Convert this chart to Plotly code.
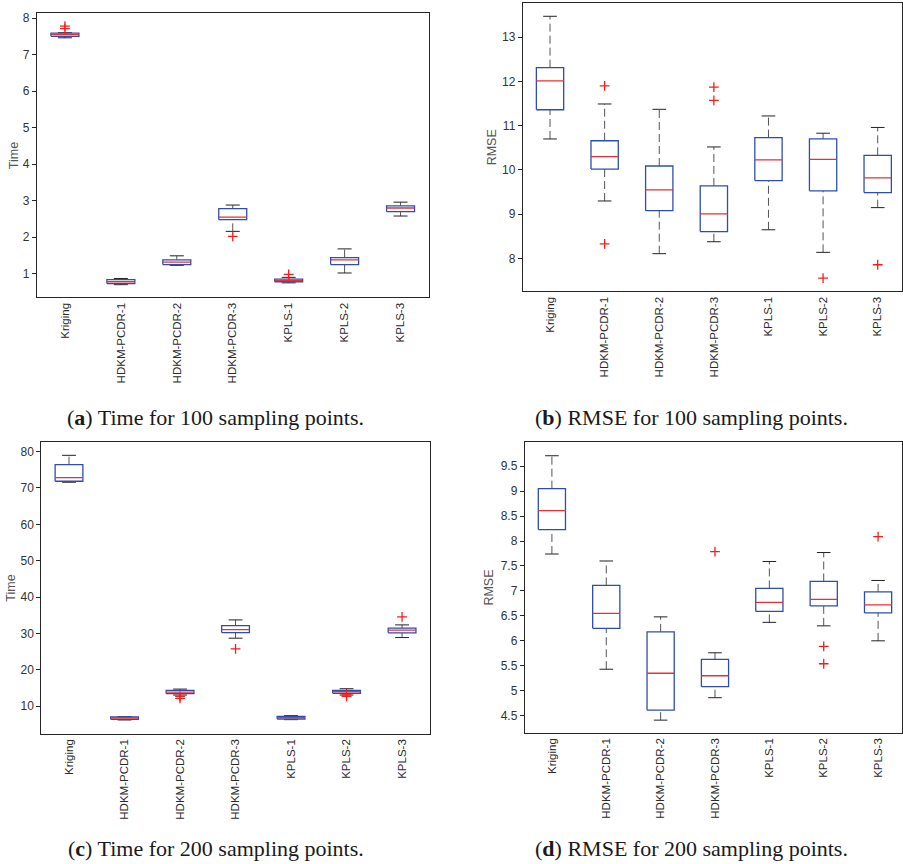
import plotly.graph_objects as go

# ---------------------------------------------------------------- data
methods = ["Kriging", "HDKM-PCDR-1", "HDKM-PCDR-2", "HDKM-PCDR-3",
           "KPLS-1", "KPLS-2", "KPLS-3"]

# (a) computing time, 100 sampling points
time100_lo = [7.46, 0.70, 1.23, 2.16, 0.75, 1.02, 2.58]
time100_q1 = [7.50, 0.73, 1.25, 2.48, 0.78, 1.25, 2.70]
time100_med = [7.545, 0.78, 1.32, 2.55, 0.81, 1.38, 2.80]
time100_q3 = [7.59, 0.84, 1.38, 2.78, 0.85, 1.44, 2.86]
time100_hi = [7.60, 0.87, 1.49, 2.88, 0.90, 1.68, 2.96]
time100_out = [[7.78, 7.71], [], [], [2.02], [0.98], [], []]

# (b) RMSE, 100 sampling points
rmse100_lo = [10.70, 9.30, 8.11, 8.38, 8.65, 8.14, 9.15]
rmse100_q1 = [11.36, 10.02, 9.08, 8.61, 9.76, 9.53, 9.49]
rmse100_med = [12.01, 10.30, 9.55, 9.01, 10.23, 10.24, 9.82]
rmse100_q3 = [12.31, 10.66, 10.09, 9.64, 10.73, 10.70, 10.33]
rmse100_hi = [13.47, 11.49, 11.37, 10.52, 11.22, 10.83, 10.96]
rmse100_out = [[], [11.90, 8.33], [], [11.87, 11.57], [], [7.56], [7.86]]

# (c) computing time, 200 sampling points
time200_lo = [71.58, 6.17, 13.03, 28.67, 6.26, 13.03, 28.85]
time200_q1 = [71.86, 6.35, 13.40, 30.23, 6.44, 13.50, 30.14]
time200_med = [72.86, 6.71, 13.85, 31.05, 6.80, 13.94, 30.87]
time200_q3 = [76.43, 6.99, 14.30, 32.15, 7.17, 14.30, 31.42]
time200_hi = [78.99, 7.08, 14.67, 33.70, 7.36, 14.77, 32.33]
time200_out = [[], [], [12.67, 12.10], [25.75], [], [12.67, 13.10], [34.53]]

# (d) RMSE, 200 sampling points
rmse200_lo = [7.74, 5.43, 4.41, 4.86, 6.37, 6.30, 6.00]
rmse200_q1 = [8.23, 6.25, 4.61, 5.08, 6.59, 6.70, 6.56]
rmse200_med = [8.61, 6.55, 5.35, 5.30, 6.77, 6.83, 6.72]
rmse200_q3 = [9.05, 7.11, 6.18, 5.63, 7.05, 7.19, 6.98]
rmse200_hi = [9.71, 7.60, 6.48, 5.76, 7.59, 7.77, 7.21]
rmse200_out = [[], [], [], [7.79], [], [5.89, 5.54], [8.09]]

# y tick labels
time100_ticks = [1, 2, 3, 4, 5, 6, 7, 8]
rmse100_ticks = [8, 9, 10, 11, 12, 13]
time200_ticks = [10, 20, 30, 40, 50, 60, 70, 80]
rmse200_ticks = [4.5, 5, 5.5, 6, 6.5, 7, 7.5, 8, 8.5, 9, 9.5]
rmse200_ticktext = ["4.5", "5", "5.5", "6", "6.5", "7", "7.5", "8", "8.5", "9", "9.5"]

captions = ["(<b>a</b>) Time for 100 sampling points.",
            "(<b>b</b>) RMSE for 100 sampling points.",
            "(<b>c</b>) Time for 200 sampling points.",
            "(<b>d</b>) RMSE for 200 sampling points."]

# ---------------------------------------------------------------- styling
W, H = 903, 864
BOX_BLUE = "#2f4db0"
MED_RED = "#ee2e2e"
WHISK = "#555555"
CAP = "#222222"
FRAME = "#262626"
TICK_FONT = dict(family="Liberation Sans, Arial, sans-serif", size=12, color="#333333")
CAT_FONT = dict(family="Liberation Sans, Arial, sans-serif", size=11.5, color="#2a2a2a")
HALF_BOX = 0.25
HALF_CAP = 0.125


def px_x(v):
    return v / W


def px_y(v):
    return 1 - v / H


fig = go.Figure()


def add_panel(idx, lo, q1, med, q3, hi, outs):
    xa = "x" if idx == 1 else f"x{idx}"
    ya = "y" if idx == 1 else f"y{idx}"
    pos = list(range(1, len(methods) + 1))

    bx, by, mx, my, wx, wy, cx, cy, ox, oy = ([] for _ in range(10))
    for p, a, b, m, c, d, o in zip(pos, lo, q1, med, q3, hi, outs):
        # box outline
        bx += [p - HALF_BOX, p + HALF_BOX, p + HALF_BOX, p - HALF_BOX, p - HALF_BOX, None]
        by += [b, b, c, c, b, None]
        # median
        mx += [p - HALF_BOX, p + HALF_BOX, None]
        my += [m, m, None]
        # whiskers
        wx += [p, p, None, p, p, None]
        wy += [c, d, None, a, b, None]
        # caps
        cx += [p - HALF_CAP, p + HALF_CAP, None, p - HALF_CAP, p + HALF_CAP, None]
        cy += [d, d, None, a, a, None]
        for v in o:
            ox.append(p)
            oy.append(v)

    common = dict(xaxis=xa, yaxis=ya, showlegend=False, hoverinfo="skip")
    fig.add_trace(go.Scatter(x=wx, y=wy, mode="lines",
                             line=dict(color=WHISK, width=1, dash="8px,4px"), **common))
    fig.add_trace(go.Scatter(x=cx, y=cy, mode="lines",
                             line=dict(color=CAP, width=1), **common))
    fig.add_trace(go.Scatter(x=bx, y=by, mode="lines",
                             line=dict(color=BOX_BLUE, width=1.3), **common))
    fig.add_trace(go.Scatter(x=mx, y=my, mode="lines",
                             line=dict(color=MED_RED, width=1.3), **common))
    fig.add_trace(go.Scatter(x=ox, y=oy, mode="markers",
                             marker=dict(symbol="cross-thin", size=7,
                                         line=dict(color="#ff1a1a", width=1.3)),
                             **common))


add_panel(1, time100_lo, time100_q1, time100_med, time100_q3, time100_hi, time100_out)
add_panel(2, rmse100_lo, rmse100_q1, rmse100_med, rmse100_q3, rmse100_hi, rmse100_out)
add_panel(3, time200_lo, time200_q1, time200_med, time200_q3, time200_hi, time200_out)
add_panel(4, rmse200_lo, rmse200_q1, rmse200_med, rmse200_q3, rmse200_hi, rmse200_out)

# panel geometry in pixels: (left, right, top, bottom), x range, y range, ticks
panels = [
    (37.0, 429.0, 11.0, 296.0, [0.5, 7.5], [0.354, 8.14], time100_ticks, [str(t) for t in time100_ticks]),
    (523.3, 903.0, 1.0, 290.0, [0.5, 7.445], [7.26, 13.77], rmse100_ticks, [str(t) for t in rmse100_ticks]),
    (41.3, 430.3, 441.0, 733.3, [0.5, 7.5], [2.42, 82.66], time200_ticks, [str(t) for t in time200_ticks]),
    (525.3, 903.0, 441.0, 732.3, [0.5, 7.44], [4.16, 9.986], rmse200_ticks, rmse200_ticktext),
]

layout = dict(width=W, height=H, margin=dict(l=0, r=0, t=0, b=0),
              paper_bgcolor="white", plot_bgcolor="white", showlegend=False)

for i, (l, r, t, b, xr, yr, tv, tt) in enumerate(panels, start=1):
    xk = "xaxis" if i == 1 else f"xaxis{i}"
    yk = "yaxis" if i == 1 else f"yaxis{i}"
    xa = "x" if i == 1 else f"x{i}"
    ya = "y" if i == 1 else f"y{i}"
    layout[xk] = dict(domain=[px_x(l), min(px_x(r), 1.0)], range=xr, anchor=ya,
                      tickmode="array", tickvals=list(range(1, len(methods) + 1)),
                      ticktext=methods, tickangle=-90, ticks="",
                      tickfont=CAT_FONT, showline=True, linecolor=FRAME, linewidth=1,
                      mirror=True, showgrid=False, zeroline=False, fixedrange=True)
    layout[yk] = dict(domain=[px_y(b), px_y(t)], range=yr, anchor=xa,
                      tickmode="array", tickvals=tv, ticktext=tt,
                      ticks="outside", ticklen=4, tickcolor=FRAME, tickwidth=1,
                      tickfont=TICK_FONT, showline=True, linecolor=FRAME, linewidth=1,
                      mirror=True, showgrid=False, zeroline=False, fixedrange=True)
    # inward ticks along the right-hand frame
    rk = f"yaxis{i + 4}"
    layout[rk] = dict(overlaying=ya, anchor=xa, side="right", range=yr,
                      tickmode="array", tickvals=tv, ticks="inside", ticklen=4,
                      tickcolor=FRAME, tickwidth=1, showticklabels=False,
                      showline=False, showgrid=False, zeroline=False, fixedrange=True)

fig.update_layout(**layout)

# y-axis titles
ytitles = [("Time", 14.0, 153.5), ("RMSE", 492.7, 145.5),
           ("Time", 11.0, 587.0), ("RMSE", 490.0, 586.5)]
for text, x, y in ytitles:
    fig.add_annotation(text=text, x=px_x(x), y=px_y(y), xref="paper", yref="paper",
                       textangle=-90, showarrow=False, xanchor="center", yanchor="middle",
                       font=dict(family="Liberation Sans, Arial, sans-serif", size=12.5,
                                 color="#555555"))

# sub-figure captions
cap_pos = [(216.0, 416.0), (692.0, 416.0), (216.0, 848.0), (692.0, 848.0)]
for text, (x, y) in zip(captions, cap_pos):
    fig.add_annotation(text=text, x=px_x(x), y=px_y(y), xref="paper", yref="paper",
                       showarrow=False, xanchor="center", yanchor="middle",
                       font=dict(family="Liberation Serif, Times New Roman, serif",
                                 size=22, color="#1a1a1a"))

fig.write_html("out.html")
